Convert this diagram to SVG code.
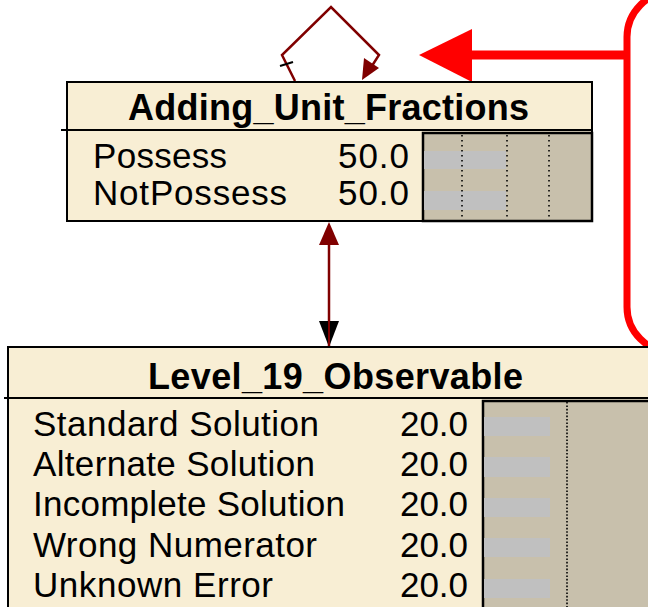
<svg xmlns="http://www.w3.org/2000/svg" width="648" height="607" viewBox="0 0 648 607">
<style>
.title{font-family:"Liberation Sans",Arial,sans-serif;font-weight:bold;font-size:36px;fill:#000}
.lbl{font-family:"Liberation Sans",Arial,sans-serif;font-size:35px;fill:#000}
.box{fill:#F8EED4;stroke:#000;stroke-width:2}
.bararea{fill:#C8C0AC;stroke:#000;stroke-width:2.5}
.bar{fill:#C0C0C0}
.dots{stroke:#000;stroke-width:1.6;stroke-dasharray:1.6 3.4;fill:none}
.conn{stroke:#800000;stroke-width:2.5;fill:none}
</style>
<rect width="648" height="607" fill="#fff"/>
<g id="callout">
<rect x="627" y="-8" width="120" height="360" rx="45" ry="45" fill="none" stroke="#FF0000" stroke-width="7"/>
<line x1="627" y1="55" x2="468" y2="55" stroke="#FF0000" stroke-width="9"/>
<polygon points="419,55 472,29 472,82" fill="#FF0000"/>
</g>
<g id="connectors">
<polyline class="conn" points="295,81 282,55 331,7 379,55 370,69"/>
<polygon points="362,80 364,58 379,68" fill="#800000"/>
<line x1="280" y1="66" x2="293" y2="62" stroke="#000" stroke-width="2"/>
<line class="conn" x1="329" y1="240" x2="329" y2="346"/>
<polygon points="329,222 319,245 339,245" fill="#800000"/>
<polygon points="319,321 339,321 329,347" fill="#000"/>
<line x1="329" y1="320" x2="329" y2="346" stroke="#800000" stroke-width="2"/>
</g>
<g id="node_adding_unit_fractions">
<rect class="box" x="67" y="82" width="525" height="139"/>
<line x1="61" y1="130" x2="592" y2="130" stroke="#000" stroke-width="2"/>
<text class="title" x="128" y="120" textLength="401" lengthAdjust="spacing">Adding_Unit_Fractions</text>
<rect class="bararea" x="423" y="133" width="169" height="88"/>
<rect class="bar" x="424" y="151" width="82" height="18"/>
<rect class="bar" x="424" y="191" width="82" height="19"/>
<line class="dots" x1="462" y1="135" x2="462" y2="219"/>
<line class="dots" x1="507" y1="135" x2="507" y2="219"/>
<line class="dots" x1="549" y1="135" x2="549" y2="219"/>
<rect class="bar" x="424" y="151" width="37" height="18" opacity="0.85"/>
<rect class="bar" x="424" y="191" width="37" height="19" opacity="0.85"/>
<text class="lbl" x="93" y="168" textLength="134" lengthAdjust="spacing">Possess</text>
<text class="lbl" x="93" y="205" textLength="194" lengthAdjust="spacing">NotPossess</text>
<text class="lbl" x="338" y="168" textLength="71" lengthAdjust="spacing">50.0</text>
<text class="lbl" x="338" y="205" textLength="71" lengthAdjust="spacing">50.0</text>
</g>
<g id="node_level_19_observable">
<rect class="box" x="8" y="347" width="650" height="270"/>
<line x1="4" y1="398" x2="648" y2="398" stroke="#000" stroke-width="2"/>
<text class="title" x="148" y="389" textLength="375" lengthAdjust="spacing">Level_19_Observable</text>
<rect class="bararea" x="483" y="401" width="170" height="215"/>
<rect class="bar" x="484" y="417" width="66" height="19"/>
<rect class="bar" x="484" y="457" width="66" height="20"/>
<rect class="bar" x="484" y="498" width="66" height="19"/>
<rect class="bar" x="484" y="538" width="66" height="19"/>
<rect class="bar" x="484" y="579" width="66" height="19"/>
<line x1="567" y1="402" x2="567" y2="607" stroke="#000" stroke-width="1.6" stroke-dasharray="1.6 1.8"/>
<text class="lbl" x="33" y="436" textLength="286" lengthAdjust="spacing">Standard Solution</text>
<text class="lbl" x="33" y="476" textLength="282" lengthAdjust="spacing">Alternate Solution</text>
<text class="lbl" x="33" y="516" textLength="312" lengthAdjust="spacing">Incomplete Solution</text>
<text class="lbl" x="33" y="557" textLength="284" lengthAdjust="spacing">Wrong Numerator</text>
<text class="lbl" x="33" y="597" textLength="240" lengthAdjust="spacing">Unknown Error</text>
<text class="lbl" x="400" y="436" textLength="68" lengthAdjust="spacing">20.0</text>
<text class="lbl" x="400" y="476" textLength="68" lengthAdjust="spacing">20.0</text>
<text class="lbl" x="400" y="516" textLength="68" lengthAdjust="spacing">20.0</text>
<text class="lbl" x="400" y="557" textLength="68" lengthAdjust="spacing">20.0</text>
<text class="lbl" x="400" y="597" textLength="68" lengthAdjust="spacing">20.0</text>
</g>
</svg>
